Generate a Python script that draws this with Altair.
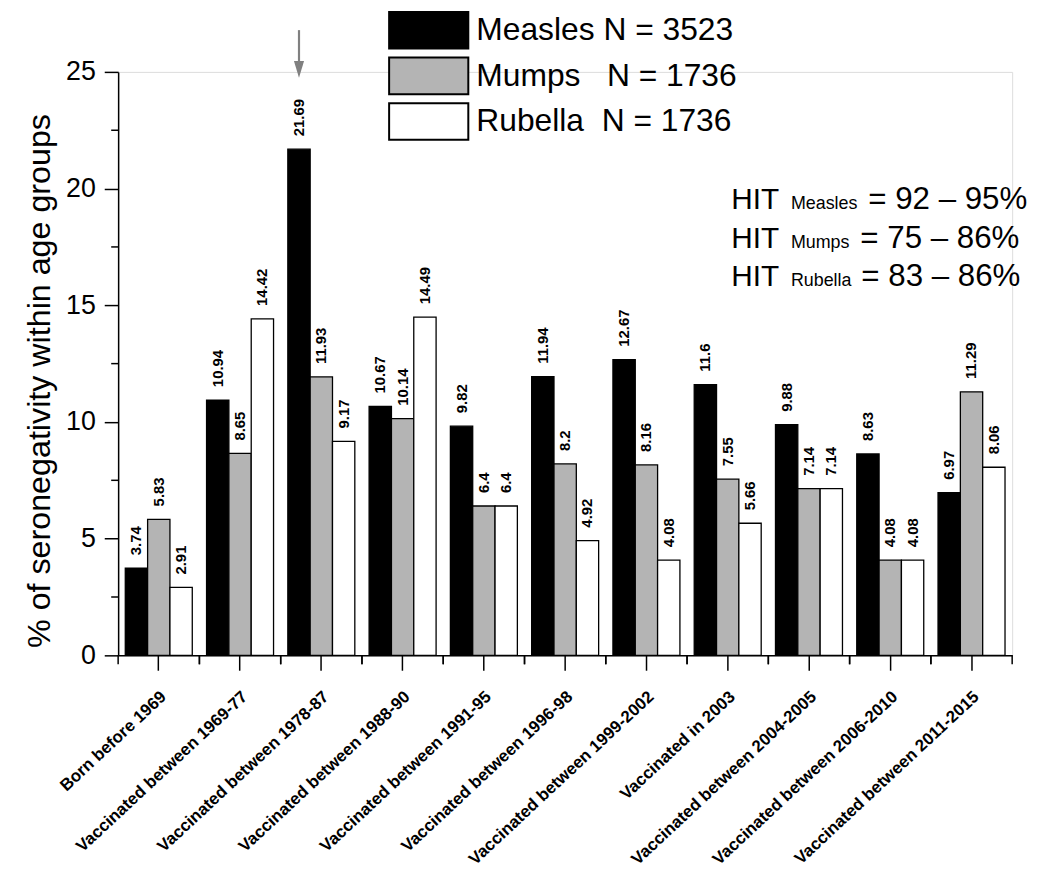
import altair as alt
import pandas as pd

groups = [
    "Born before 1969",
    "Vaccinated between 1969-77",
    "Vaccinated between 1978-87",
    "Vaccinated between 1988-90",
    "Vaccinated between 1991-95",
    "Vaccinated between 1996-98",
    "Vaccinated between 1999-2002",
    "Vaccinated in 2003",
    "Vaccinated between 2004-2005",
    "Vaccinated between 2006-2010",
    "Vaccinated between 2011-2015",
]
series = ["Measles", "Mumps", "Rubella"]
legend_labels = [
    "Measles N = 3523",
    "Mumps\u00a0\u00a0\u00a0N = 1736",
    "Rubella\u00a0\u00a0N = 1736",
]
colors = ["#000000", "#b4b4b4", "#ffffff"]
measles = [3.74, 10.94, 21.69, 10.67, 9.82, 11.94, 12.67, 11.6, 9.88, 8.63, 6.97]
mumps = [5.83, 8.65, 11.93, 10.14, 6.4, 8.2, 8.16, 7.55, 7.14, 4.08, 11.29]
rubella = [2.91, 14.42, 9.17, 14.49, 6.4, 4.92, 4.08, 5.66, 7.14, 4.08, 8.06]
y_ticks = [0, 5, 10, 15, 20, 25]
y_minor = [2.5, 7.5, 12.5, 17.5, 22.5]
hit_names = ["Measles", "Mumps", "Rubella"]
hit_ranges = ["= 92 \u2013 95%", "= 75 \u2013 86%", "= 83 \u2013 86%"]
arrow_group = "Vaccinated between 1978-87"

W, H = 901, 588
FONT = "Liberation Sans"

rows = []
for s, lab, vals in zip(series, legend_labels, [measles, mumps, rubella]):
    for g, v in zip(groups, vals):
        rows.append({"group": g, "series": s, "legend": lab, "value": v, "label": str(v)})
df = pd.DataFrame(rows)

x_enc = alt.X(
    "group:N",
    sort=groups,
    scale=alt.Scale(paddingInner=0, paddingOuter=0),
    axis=alt.Axis(
        title=None,
        labelAngle=-43,
        labelAlign="right",
        labelBaseline="middle",
        labelFontSize=17,
        labelFontWeight="bold",
        labelPadding=24,
        labelOffset=5,
        tickSize=15,
        tickWidth=1.5,
        tickColor="#000",
        domainColor="#000",
        domainWidth=1.5,
        labelColor="#000",
        labelLimit=400,
    ),
)
xoff_enc = alt.XOffset("series:N", sort=series, scale=alt.Scale(paddingInner=0, paddingOuter=0.32))
y_scale = alt.Scale(domain=[0, 25], nice=False, zero=True)
y_enc = alt.Y(
    "value:Q",
    scale=y_scale,
    axis=alt.Axis(
        title="% of seronegativity within age groups",
        titleFontSize=32.5,
        titleFontWeight="normal",
        titleColor="#000",
        titleX=-69,
        titleY=311,
        titleBaseline="alphabetic",
        values=y_ticks,
        labelFontSize=27,
        labelColor="#000",
        labelPadding=9,
        tickSize=14,
        tickWidth=1.5,
        tickColor="#000",
        domainColor="#000",
        domainWidth=1.5,
        grid=False,
    ),
)

symbol_path = "M-2.1,-0.97L2.1,-0.97L2.1,0.97L-2.1,0.97Z"

bars = alt.Chart(df).mark_bar(stroke="#000", strokeWidth=1.3).encode(
    x=x_enc,
    xOffset=xoff_enc,
    y=y_enc,
    fill=alt.Fill(
        "legend:N",
        sort=legend_labels,
        scale=alt.Scale(domain=legend_labels, range=colors),
        legend=alt.Legend(
            title=None,
            orient="none",
            legendX=293,
            legendY=-62,
            padding=0,
            symbolType=symbol_path,
            symbolSize=1444,
            symbolStrokeColor="#000",
            symbolStrokeWidth=2,
            symbolOpacity=1,
            labelFontSize=32,
            labelColor="#000",
            labelOffset=28,
            labelLimit=500,
            rowPadding=0,
        ),
    ),
)

values_text = alt.Chart(df).mark_text(
    angle=270, align="left", baseline="middle", dx=13, fontSize=15, fontWeight="bold", color="#000"
).encode(x=alt.X("group:N", sort=groups), xOffset=alt.XOffset("series:N", sort=series), y="value:Q", text="label:N")

ymin_df = pd.DataFrame({"v": y_minor})
y_minor_ticks = alt.Chart(ymin_df).mark_rule(color="#000", strokeWidth=1.5).encode(
    y=alt.Y("v:Q"), x=alt.value(-7), x2=alt.value(0)
)

gdf = pd.DataFrame({"group": groups})
x_minor_a = alt.Chart(gdf).mark_rule(color="#000", strokeWidth=1.5).encode(
    x=alt.X("group:N", sort=groups, bandPosition=0), y=alt.value(H), y2=alt.value(H + 9)
)
x_minor_b = alt.Chart(gdf).mark_rule(color="#000", strokeWidth=1.5).encode(
    x=alt.X("group:N", sort=groups, bandPosition=1), y=alt.value(H), y2=alt.value(H + 9)
)

arrow_df = pd.DataFrame({"group": [arrow_group], "series": ["Measles"], "top": [26.79], "bottom": [25.3], "head": [25.11]})
arrow_shaft = alt.Chart(arrow_df).mark_rule(color="#808080", strokeWidth=2.2).encode(
    x=alt.X("group:N", sort=groups), xOffset=alt.XOffset("series:N", sort=series),
    y=alt.Y("top:Q"), y2="bottom:Q"
)
arrow_head = alt.Chart(arrow_df).mark_point(
    shape="M-0.6,-1L0.6,-1L0,1Z", filled=True, fill="#808080", opacity=1, size=289, strokeWidth=0
).encode(x=alt.X("group:N", sort=groups), xOffset=alt.XOffset("series:N", sort=series), y=alt.Y("head:Q"))

hit_layers = []
hit_rows_y = [138, 177, 216]
hit_range_x = [756, 748, 749]
for name, rng, yy, rx in zip(hit_names, hit_ranges, hit_rows_y, hit_range_x):
    d = pd.DataFrame({"t": ["HIT"], "s": [name], "r": [rng]})
    base = alt.Chart(d)
    hit_layers.append(base.mark_text(align="left", baseline="alphabetic", fontSize=30, color="#000").encode(
        x=alt.value(618), y=alt.value(yy), text="t:N"))
    hit_layers.append(base.mark_text(align="left", baseline="alphabetic", fontSize=18, color="#000").encode(
        x=alt.value(678), y=alt.value(yy), text="s:N"))
    hit_layers.append(base.mark_text(align="left", baseline="alphabetic", fontSize=31.5, color="#000").encode(
        x=alt.value(rx), y=alt.value(yy), text="r:N"))

chart = alt.layer(
    bars, values_text, y_minor_ticks, x_minor_a, x_minor_b, arrow_shaft, arrow_head, *hit_layers
).properties(
    width=W,
    height=H,
    autosize=alt.AutoSizeParams(type="none"),
    padding={"left": 111, "top": 61, "right": 21, "bottom": 222},
).configure_view(stroke=None).configure(font=FONT).configure_text(font=FONT)

chart.save("out.html", embed_options={"renderer": "svg", "actions": False})
